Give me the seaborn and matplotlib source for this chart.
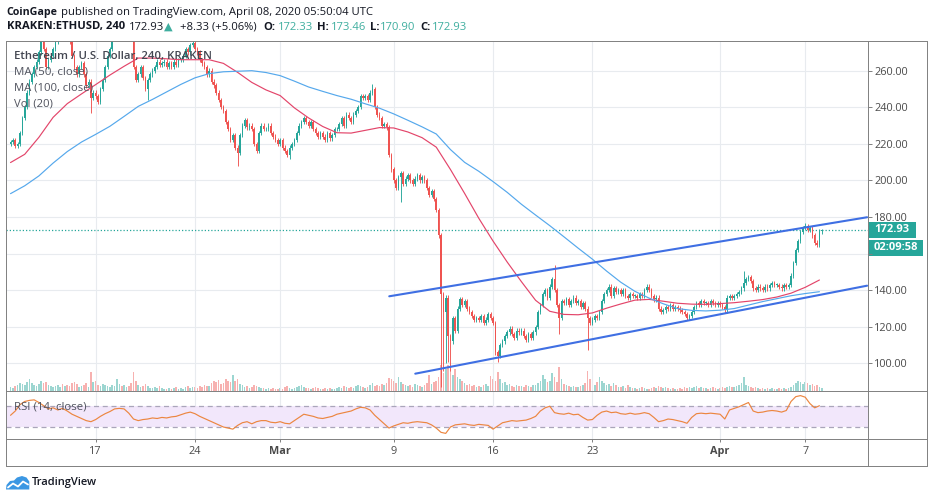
import numpy as np
import pandas as pd
import matplotlib
matplotlib.use("Agg")
import matplotlib.pyplot as plt
import matplotlib.dates as mdates
from matplotlib.lines import Line2D
from matplotlib.patches import Rectangle, Polygon
from matplotlib.transforms import IdentityTransform
import seaborn as sns

# ---------------- data ----------------
first_candle = "2020-02-11 00:00"      # 4h candles
open_first = 220.0

close_feb = [221, 222, 219, 220, 226, 234,  240, 248, 254, 258, 262, 265,
             270, 278, 272, 262, 266, 268,  272, 276, 280, 282, 278, 284,
             283, 276, 268, 262, 258, 262,  264, 258, 252, 254, 245, 248,
             246, 243, 250, 255, 262, 268,  272, 278, 283, 286, 288, 285,
             287, 289, 284, 280, 262, 255,  258, 262, 256, 250, 255, 258,
             260, 262, 265, 263, 264, 265,  262, 264, 262, 265, 263, 266,
             266, 268, 272, 270, 274, 275,  272, 270, 266, 264, 262, 258,
             260, 254, 252, 248, 244, 240,  238, 232, 228, 222, 225, 218,
             215, 225, 230, 233, 229, 230,  228, 220, 216, 226, 230, 228,
             228, 230, 226, 224, 222, 220]
close_mar = [222, 218, 216, 214, 218, 220,  222, 226, 230, 232, 234, 232,
             230, 232, 228, 226, 224, 226,  224, 222, 226, 223, 225, 228,
             228, 231, 234, 230, 236, 234,  232, 236, 238, 240, 246, 245,
             246, 244, 248, 250, 240, 236,  234, 230, 231, 229, 214, 206,
             200, 196, 202, 204, 198, 201,  203, 200, 198, 201, 203, 200,
             202, 200, 196, 192, 194, 190,  184, 170, 138, 128, 136, 115,
             112, 125, 118, 130, 135, 132,  134, 130, 128, 126, 124, 125,
             124, 126, 122, 124, 127, 125,  122, 106, 104, 110, 112, 115,
             117, 119, 116, 114, 118, 117,  118, 115, 113, 116, 114, 117,
             120, 128, 132, 138, 140, 136,  142, 146, 140, 132, 125, 134,
             133, 135, 132, 134, 136, 133,  134, 131, 133, 130, 125, 122,
             124, 126, 125, 128, 134, 138,  140, 142, 137, 141, 139, 140,
             138, 140, 137, 136, 138, 137,  137, 136, 138, 137, 140, 142,
             140, 137, 135, 136, 130, 128,  129, 131, 130, 132, 130, 131,
             130, 129, 128, 127, 125, 126,  128, 131, 133, 132, 134, 133,
             133, 132, 134, 133, 132, 133]
close_apr = [132, 131, 129, 136, 137, 136,  137, 138, 139, 141, 144, 146,
             147, 145, 141, 140, 142, 141,  140, 142, 141, 143, 144, 143,
             143, 142, 141, 143, 142, 143,  148, 155, 162, 167, 172, 174,
             175, 173, 174, 170, 166, 164.6,  172.33, 172.93]

wick_high = {"2020-03-07 12:00": 252.5, "2020-03-20 08:00": 153.6,
             "2020-04-02 16:00": 150.3, "2020-04-07 00:00": 176.7,
             "2020-04-08 04:00": 173.46}
wick_low = {"2020-02-16 16:00": 237, "2020-02-20 16:00": 244,
            "2020-02-27 00:00": 208, "2020-03-01 16:00": 212,
            "2020-03-09 12:00": 188, "2020-03-12 08:00": 87,
            "2020-03-12 12:00": 96, "2020-03-12 16:00": 100,
            "2020-03-12 20:00": 101, "2020-03-13 00:00": 96,
            "2020-03-16 08:00": 101, "2020-03-20 16:00": 116,
            "2020-03-22 16:00": 107.5, "2020-04-08 04:00": 170.90}

vol_feb = [4, 3, 5, 6, 8, 7,  6, 9, 12, 8, 6, 5,  7, 10, 8, 9, 6, 5,  4, 5, 6, 4, 7, 5,
           6, 5, 8, 9, 7, 4,  5, 6, 8, 4, 19, 9,  10, 6, 5, 7, 6, 5,  4, 6, 5, 12, 7, 5,
           6, 4, 5, 8, 19, 10,  6, 4, 5, 7, 5, 3,  3, 4, 3, 5, 3, 2,  2, 3, 2, 3, 4, 2,
           3, 2, 4, 5, 3, 4,  4, 3, 5, 4, 6, 5,  5, 8, 10, 9, 11, 7,  8, 12, 10, 9, 16, 10,
           12, 7, 6, 4, 5, 3,  4, 6, 5, 4, 3, 3,  2, 3, 2, 3, 2, 2]
vol_mar = [3, 2, 4, 5, 3, 2,  3, 4, 5, 6, 4, 3,  3, 2, 3, 4, 3, 2,  2, 3, 2, 3, 2, 2,
           3, 4, 3, 5, 4, 3,  4, 3, 5, 6, 5, 4,  3, 4, 6, 8, 5, 6,  5, 7, 6, 8, 13, 12,
           10, 8, 14, 9, 7, 6,  5, 6, 4, 7, 6, 5,  4, 6, 8, 16, 7, 9,  10, 14, 26, 18, 22, 26,
           20, 16, 22, 14, 12, 10,  8, 6, 7, 5, 6, 4,  5, 4, 6, 7, 5, 15,  12, 10, 19, 12, 8, 9,
           6, 7, 5, 4, 6, 5,  5, 4, 6, 5, 4, 6,  6, 8, 10, 16, 12, 9,  10, 18, 14, 9, 24, 12,
           7, 6, 5, 4, 5, 4,  4, 5, 6, 8, 20, 12,  8, 6, 9, 14, 10, 8,  6, 7, 5, 8, 6, 4,
           4, 5, 3, 6, 4, 3,  3, 2, 3, 4, 3, 2,  2, 3, 4, 3, 5, 4,  3, 4, 3, 2, 3, 2,
           2, 3, 2, 4, 3, 4,  3, 4, 5, 3, 4, 3,  3, 2, 3, 4, 3, 2]
vol_apr = [3, 4, 3, 4, 5, 4,  4, 5, 6, 8, 14, 6,  5, 4, 3, 4, 3, 2,  3, 2, 3, 2, 3, 2,
           2, 3, 2, 3, 2, 3,  4, 6, 8, 10, 9, 7,  9, 8, 6, 7, 5, 6,  4, 3]

# daily moving averages (00:00 each day)
ma50_feb = [209.8, 214.3, 223.6, 234.5, 242, 247.3, 252.4, 257.6, 262.4, 266.9,
            266.9, 266.5, 266, 266, 266, 264, 259.1, 253.6, 249.5]
ma50_mar = [246.4, 239.7, 234.2, 229.5, 226.1, 225.9, 227.4, 228.9, 228.7, 226.5,
            223.4, 218.2, 206, 192.9, 179.3, 166.9, 155.4, 144.7, 134.5, 128.5,
            126.8, 126.6, 127.6, 130.2, 132.5, 134.6, 135, 134, 132.9, 132.4, 132.3]
ma50_apr = [132.7, 133.2, 134, 134.9, 136.3, 138.4, 141.6, 145.6]
ma100_feb = [192.8, 197.1, 202.5, 209.5, 215.8, 221, 225.2, 229.6, 235, 240.5,
             244.3, 248.4, 252.5, 256.1, 258.4, 259.4, 259.7, 260, 259]
ma100_mar = [257.3, 254.3, 251.1, 248.7, 246.4, 244.4, 241.9, 239.5, 236.4, 232.9,
             229.3, 225.4, 216.9, 209.9, 205, 199.4, 193.5, 187, 181.1, 175.3,
             169.2, 163, 157, 150.5, 144.4, 139.4, 135.7, 132.6, 130, 129, 128.7]
ma100_apr = [129.1, 130.0, 131.9, 133.8, 135.4, 137, 138.2, 139.2]

# RSI(14) every 8 hours
rsi_feb = [52, 60, 72, 78, 80, 81, 76, 70, 64, 66, 62, 65, 60, 54, 50, 46, 42, 40,
           44, 50, 55, 59, 64, 65, 64, 56, 45, 42, 44, 45, 47, 46, 48, 47, 49, 50,
           53, 56, 58, 55, 50, 46, 42, 38, 34, 30, 28, 26, 33, 38, 40, 36, 40, 42,
           42, 39, 38]
rsi_mar = [40, 37, 36, 42, 48, 54, 52, 50, 47, 46, 48, 50, 54, 56, 58, 60, 64, 67,
           66, 62, 52, 44, 36, 28, 32, 35, 38, 37, 39, 40, 39, 38, 34, 28, 20, 18,
           30, 34, 35, 36, 34, 33, 35, 34, 33, 26, 32, 38, 40, 42, 41, 42, 43, 46,
           50, 60, 66, 69, 57, 55, 54, 56, 53, 54, 48, 43, 44, 52, 58, 60, 57, 58,
           55, 54, 56, 54, 55, 57, 55, 48, 40, 42, 45, 44, 42, 40, 37, 48, 55, 56,
           55, 56, 55]
rsi_apr = [54, 45, 62, 65, 68, 72, 76, 60, 57, 58, 60, 61, 60, 58, 61, 78, 87, 89,
           86, 74, 66, 70]

channel_upper_t = ["2020-03-08 16:30", "2020-04-11 08:40"]
channel_upper_p = [136.7, 179.9]
channel_lower_t = ["2020-03-10 12:30", "2020-04-11 08:40"]
channel_lower_p = [94.4, 142.5]

last_price = 172.93
countdown = "02:09:58"

tick_dates = ["2020-02-17", "2020-02-24", "2020-03-01", "2020-03-09",
              "2020-03-16", "2020-03-23", "2020-04-01", "2020-04-07"]
tick_labels = ["17", "24", "Mar", "9", "16", "23", "Apr", "7"]
price_ticks = [100, 120, 140, 160, 180, 200, 220, 240, 260]
price_tick_labels = ["100.00", "120.00", "140.00", "", "180.00", "200.00",
                     "220.00", "240.00", "260.00"]
view_start, view_end = "2020-02-10 16:20", "2020-04-11 09:40"
price_view = (85.1, 276.5)
rsi_view = (6.9, 98.2)

# ---------------- style ----------------
sns.set_theme(style="white")
plt.rcParams["font.family"] = ["Open Sans", "DejaVu Sans"]
UP, DN = "#26a69a", "#ef5350"
GRID = "#e8ebef"
FRAME = "#808080"
DARK = "#131722"
TXT = "#4a4a4a"

W, H = 933, 500
fig = plt.figure(figsize=(W / 100, H / 100), dpi=100)
fig.patch.set_facecolor("white")
PX = IdentityTransform()

L, R = 6.0, 867.7
T_P, B_P, B_R = 40.5, 390.7, 439.3
B_F, R_F = 466.0, 926.7

ax = fig.add_axes([L / W, 1 - B_P / H, (R - L) / W, (B_P - T_P) / H])
ax_rsi = fig.add_axes([L / W, 1 - B_R / H, (R - L) / W, (B_R - B_P) / H], sharex=ax)
ax_vol = ax.twinx()
ax.set_zorder(ax_vol.get_zorder() + 1)
ax.patch.set_visible(False)

# ---------------- candles ----------------
close = np.array(close_feb + close_mar + close_apr, float)
vol = np.array(vol_feb + vol_mar + vol_apr, float)
assert len(close) == len(vol)
times = pd.date_range(first_candle, periods=len(close), freq="4h")
x = mdates.date2num(times)
opn = np.r_[open_first, close[:-1]]
hi = np.maximum(opn, close) + 1.2
lo = np.minimum(opn, close) - 1.2
for ts, v in wick_high.items():
    hi[times.get_loc(pd.Timestamp(ts))] = v
for ts, v in wick_low.items():
    lo[times.get_loc(pd.Timestamp(ts))] = v
cols = np.where(close >= opn, UP, DN)

tick_x = mdates.date2num(pd.to_datetime(tick_dates))
for tx in tick_x:
    ax.axvline(tx, color=GRID, lw=0.8, zorder=0)
    ax_rsi.axvline(tx, color=GRID, lw=0.8, zorder=0)
for p in price_ticks:
    ax.axhline(p, color=GRID, lw=0.8, zorder=0)

ax_vol.bar(x, vol, width=0.115, color=cols, alpha=0.45, linewidth=0)
ax.vlines(x, lo, hi, colors=cols, lw=0.65, zorder=3)
ax.bar(x, np.maximum(np.abs(close - opn), 0.35), bottom=np.minimum(opn, close),
       width=0.115, color=cols, linewidth=0, zorder=4)

ma_t = mdates.date2num(pd.date_range(first_candle, periods=len(ma50_feb + ma50_mar + ma50_apr), freq="D"))
sns.lineplot(x=ma_t, y=ma50_feb + ma50_mar + ma50_apr, ax=ax, color="#e3456a", lw=0.85, zorder=5)
sns.lineplot(x=ma_t, y=ma100_feb + ma100_mar + ma100_apr, ax=ax, color="#55a8ec", lw=0.85, zorder=5)

for tt, pp in [(channel_upper_t, channel_upper_p), (channel_lower_t, channel_lower_p)]:
    sns.lineplot(x=mdates.date2num(pd.to_datetime(tt)), y=pp, ax=ax,
                 color="#3f6fe3", lw=1.5, zorder=6)

ax.axhline(last_price, color=UP, ls=(0, (1, 1.6)), lw=0.9, zorder=2)

# ---------------- RSI ----------------
rsi = rsi_feb + rsi_mar + rsi_apr
rsi_t = mdates.date2num(pd.date_range(first_candle, periods=len(rsi), freq="8h"))
ax_rsi.axhspan(30, 70, color="#f2e7fb", lw=0, zorder=0)
for lvl in (30, 70):
    ax_rsi.axhline(lvl, color="#aaa5ba", ls=(0, (4, 3)), lw=0.9, zorder=1)
sns.lineplot(x=rsi_t, y=rsi, ax=ax_rsi, color="#ec8640", lw=0.85, zorder=3)

# ---------------- axes ----------------
ax.set_xlim(mdates.date2num(pd.Timestamp(view_start)), mdates.date2num(pd.Timestamp(view_end)))
ax.set_ylim(*price_view)
ax_vol.set_ylim(0, 350)
ax_rsi.set_ylim(*rsi_view)
for a in (ax, ax_rsi, ax_vol):
    for s in a.spines.values():
        s.set_visible(False)
    a.set_xlabel("")
    a.set_ylabel("")
ax.tick_params(axis="x", bottom=False, labelbottom=False)
ax.yaxis.tick_right()
ax.set_yticks(price_ticks)
ax.set_yticklabels(price_tick_labels)
ax.tick_params(axis="y", right=True, left=False, length=2.9, width=0.7, color=FRAME,
               pad=1.9, labelsize=7.8, labelcolor=TXT)
ax_vol.set_yticks([])
ax_vol.tick_params(right=False, labelright=False)
ax_rsi.set_yticks([])
ax_rsi.set_xticks(tick_x)
ax_rsi.set_xticklabels(tick_labels)
ax_rsi.tick_params(axis="x", bottom=True, length=2.5, width=0.7, color=FRAME,
                   pad=2.0, labelsize=7.8, labelcolor=TXT)
for lbl in ax_rsi.get_xticklabels():
    if lbl.get_text() in ("Mar", "Apr"):
        lbl.set_fontweight("bold")

# ---------------- frame ----------------
def hline(y, x0, x1):
    fig.add_artist(Line2D([x0, x1], [H - y, H - y], transform=PX, color=FRAME, lw=0.7))

def vline(xp, y0, y1):
    fig.add_artist(Line2D([xp, xp], [H - y0, H - y1], transform=PX, color=FRAME, lw=0.7))

for yy in (T_P, B_P, B_R, B_F):
    hline(yy, L, R_F)
for xx in (L, R, R_F):
    vline(xx, T_P, B_F)

# ---------------- price label boxes ----------------
y_last = ax.transData.transform((ax.get_xlim()[0], last_price))[1]
fig.add_artist(Rectangle((868.3, y_last - 7.7), 47.7, 15.4, transform=PX, color=UP, lw=0))
fig.text(892.2, y_last, f"{last_price:.2f}", transform=PX, ha="center", va="center",
         color="white", fontsize=8, fontweight="bold")
fig.add_artist(Rectangle((868.3, y_last - 25.7), 54.4, 15.3, transform=PX, color=UP, lw=0))
fig.text(895.5, y_last - 18.0, countdown, transform=PX, ha="center", va="center",
         color="white", fontsize=8, fontweight="bold")

# ---------------- texts ----------------
renderer = fig.canvas.get_renderer()

def put(xp, yp, s, size=8.0, width=None, **kw):
    t = fig.text(xp, H - yp, s, transform=PX, ha="left", va="center", fontsize=size, **kw)
    if width is not None:
        w = t.get_window_extent(renderer).width
        t.set_fontsize(size * width / w)
    return t

put(6.7, 12, "CoinGape", width=51, color=DARK, fontweight="bold")
t1 = put(61, 12, "published on TradingView.com, April 08, 2020 05:50:04 UTC", width=311, color=DARK)
hs = t1.get_fontsize()
VAL = "#3fae9f"
segs = [(6.7, "KRAKEN:ETHUSD, 240", DARK, "bold"), (129.3, "172.93", DARK, "normal"),
        (163.5, "▲", VAL, "normal"), (180, "+8.33 (+5.06%)", DARK, "normal"),
        (263.3, "O:", DARK, "bold"), (278, "172.33", VAL, "normal"),
        (316.7, "H:", DARK, "bold"), (331, "173.46", VAL, "normal"),
        (370, "L:", DARK, "bold"), (380, "170.90", VAL, "normal"),
        (420.7, "C:", DARK, "bold"), (432, "172.93", VAL, "normal")]
for xp, s, c, wgt in segs:
    put(xp, 27, s, size=hs, color=c, fontweight=wgt,
        family=["Open Sans", "DejaVu Sans"])

LEG = "#50535e"
put(14, 56, "Ethereum / U.S. Dollar, 240, KRAKEN", width=197, color="#434651", fontweight=600)
put(14, 72, "MA (50, close)", width=74, color=LEG)
put(14, 88, "MA (100, close)", width=79, color=LEG)
put(14, 103.5, "Vol (20)", width=39, color=LEG)
put(14, 406.7, "RSI (14, close)", width=72, color=LEG)

# TradingView logo
logo = [(6, 489.5), (6.5, 485), (10, 481), (14, 480.5), (17, 477.5), (22, 476),
        (26.5, 477.5), (29.3, 481.5), (29.3, 489.5)]
fig.add_artist(Polygon([(a, H - b) for a, b in logo], closed=True, transform=PX,
                       color="#3b97e3", lw=0))
zig = [(8, 487.5), (13, 483.5), (18, 486.5), (23, 481.5), (28, 484.5)]
fig.add_artist(Line2D([a for a, b in zig], [H - b for a, b in zig], transform=PX,
                      color="white", lw=1.3))
put(31.7, 482.7, "TradingView", width=65, color=DARK, fontweight=600)

fig.savefig("out.png", dpi=100, facecolor="white")
